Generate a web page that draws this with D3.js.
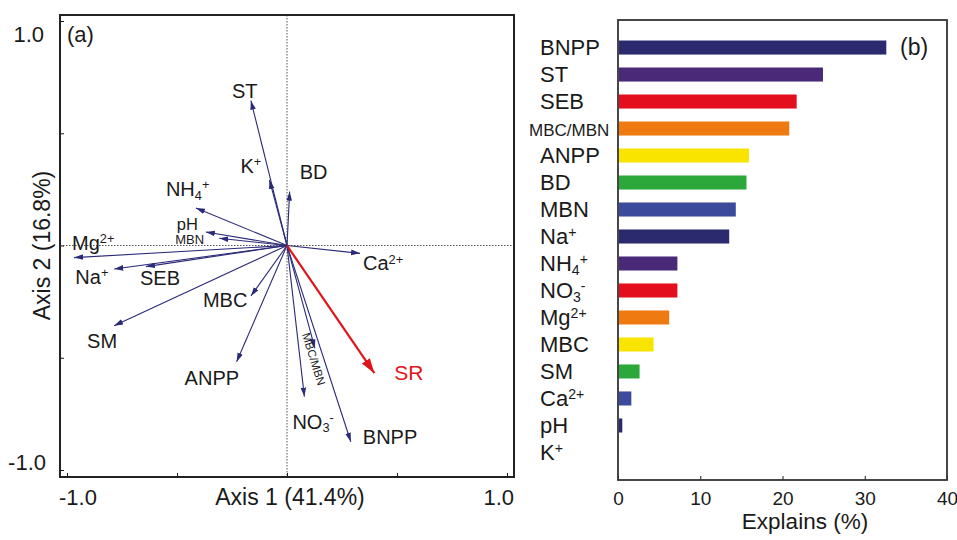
<!DOCTYPE html>
<html>
<head>
<meta charset="utf-8">
<script src="https://cdn.jsdelivr.net/npm/d3@7"></script>
<style>
  body { margin: 0; background: #fff; }
  svg { display: block; font-family: "Liberation Sans", Arial, sans-serif; }
</style>
</head>
<body>
<svg id="chart" width="957" height="540"></svg>
<script>
// ---- Panel (a): RDA biplot, environmental vectors (loadings on axes 1 and 2) ----
const envNames = ["ST", "K^+", "BD", "NH_4^+", "pH", "MBN", "Mg^{2+}", "Na^+", "SEB",
                  "MBC", "SM", "ANPP", "Ca^{2+}", "MBC/MBN", "NO_3^-", "BNPP"];
const envAxis1 = [-0.164, -0.080, 0.012, -0.414, -0.369, -0.308, -0.968, -0.785, -0.641,
                  -0.164, -0.786, -0.229, 0.332, 0.127, 0.079, 0.290];
const envAxis2 = [0.645, 0.292, 0.240, 0.167, 0.060, 0.032, -0.054, -0.105, -0.094,
                  -0.225, -0.357, -0.518, -0.035, -0.458, -0.673, -0.874];
const responseName = "SR";
const responseAxis1 = [0.397];
const responseAxis2 = [-0.569];
const biplotTicks = [-1, -0.5, 0, 0.5, 1];
const biplotTickLabels = ["-1.0", "1.0"];
const axis1Title = "Axis 1 (41.4%)";
const axis2Title = "Axis 2 (16.8%)";

// ---- Panel (b): variance explained by each variable ----
const explainNames = ["BNPP", "ST", "SEB", "MBC/MBN", "ANPP", "BD", "MBN", "Na^+", "NH_4^+",
                      "NO_3^-", "Mg^{2+}", "MBC", "SM", "Ca^{2+}", "pH", "K^+"];
const explainValues = [32.5, 24.8, 21.6, 20.7, 15.8, 15.5, 14.2, 13.4, 7.1,
                       7.1, 6.1, 4.2, 2.5, 1.5, 0.4, 0];
const explainTicks = [0, 10, 20, 30, 40];
const explainTitle = "Explains (%)";

// bar palette (cycles every seven bars)
const barPalette = ["#2b2a6f", "#4a2a78", "#e30f1d", "#ef7a12", "#f9e400", "#2ca73a", "#3c4a9c"];

// label placement for the biplot vectors: [dx, dy, font size, rotation] from the arrow tip
const vectorLabelLayout = {
  "ST": [-19, -3, 20], "K^+": [-29, -7, 20], "BD": [10, -13, 20], "NH_4^+": [-30, -12, 20],
  "pH": [-29, -2, 16.5], "MBN": [-44, 6, 13], "Mg^{2+}": [-2, -8, 20], "Na^+": [-39, 15, 20],
  "SEB": [-6, 18, 20], "MBC": [-48, 11, 20], "SM": [-27, 22, 20], "ANPP": [-52, 23, 20],
  "Ca^{2+}": [3, 17, 20], "MBC/MBN": [-13, -14, 11.5, 73], "NO_3^-": [-12, 32, 20],
  "BNPP": [12, 2, 20]
};

const svg = d3.select("#chart");
const ink = "#1a1a1a";
const vecColor = "#2b2a78";
const srColor = "#e0151b";

// Parse "NH_4^+" style markup into plain / sub / sup runs
function parseRich(s) {
  const out = [];
  const re = /([_^])(\{[^}]*\}|.)|([^_^]+)/g;
  let m;
  while ((m = re.exec(s)) !== null) {
    if (m[3]) out.push({ t: m[3], k: "n" });
    else out.push({ t: m[2].replace(/[{}]/g, ""), k: m[1] === "^" ? "sup" : "sub" });
  }
  return out;
}
function richText(sel, s, fs) {
  let cur = 0;
  parseRich(s).forEach(seg => {
    const target = seg.k === "sup" ? 0.34 * fs : seg.k === "sub" ? -0.18 * fs : 0;
    sel.append("tspan")
      .attr("dy", cur - target)
      .attr("font-size", seg.k === "n" ? fs : 0.64 * fs)
      .text(seg.t);
    cur = target;
  });
}

// ================= Panel (a) =================
const a = { left: 60, right: 514, top: 15, bottom: 477 };
const x = d3.scaleLinear().domain([-1, 1]).range([67, 507]);
const y = d3.scaleLinear().domain([-1, 1]).range([470, 21]);
const gA = svg.append("g");

// dotted reference lines through the origin
gA.append("line").attr("x1", a.left).attr("x2", a.right).attr("y1", y(0)).attr("y2", y(0))
  .attr("stroke", "#555").attr("stroke-width", 1).attr("stroke-dasharray", "1.5,1.5");
gA.append("line").attr("x1", x(0)).attr("x2", x(0)).attr("y1", a.top).attr("y2", a.bottom)
  .attr("stroke", "#555").attr("stroke-width", 1).attr("stroke-dasharray", "1.5,1.5");

// ticks along the frame (inward)
gA.append("g").attr("transform", `translate(0,${a.bottom})`)
  .call(d3.axisBottom(x).tickValues(biplotTicks).tickSize(-4).tickFormat(""))
  .call(g => g.select(".domain").remove())
  .call(g => g.selectAll("line").attr("stroke", ink));
gA.append("g").attr("transform", `translate(${a.left},0)`)
  .call(d3.axisLeft(y).tickValues(biplotTicks).tickSize(-4).tickFormat(""))
  .call(g => g.select(".domain").remove())
  .call(g => g.selectAll("line").attr("stroke", ink));

gA.append("rect").attr("x", a.left).attr("y", a.top)
  .attr("width", a.right - a.left).attr("height", a.bottom - a.top)
  .attr("fill", "none").attr("stroke", "#222").attr("stroke-width", 2);

// arrow markers
const defs = svg.append("defs");
defs.append("marker").attr("id", "headNavy").attr("markerUnits", "userSpaceOnUse")
  .attr("viewBox", "0 -4 10 8").attr("refX", 9).attr("refY", 0)
  .attr("markerWidth", 10).attr("markerHeight", 8).attr("orient", "auto")
  .append("path").attr("d", "M0,-2.8L9,0L0,2.8Z").attr("fill", vecColor);
defs.append("marker").attr("id", "headRed").attr("markerUnits", "userSpaceOnUse")
  .attr("viewBox", "0 -6 16 12").attr("refX", 15).attr("refY", 0)
  .attr("markerWidth", 16).attr("markerHeight", 12).attr("orient", "auto")
  .append("path").attr("d", "M0,-4.8L15,0L0,4.8Z").attr("fill", srColor);

const vectors = envNames.map((n, i) => ({ name: n, v1: envAxis1[i], v2: envAxis2[i] }));
gA.selectAll("line.vec").data(vectors).join("line").attr("class", "vec")
  .attr("x1", x(0)).attr("y1", y(0))
  .attr("x2", d => x(d.v1)).attr("y2", d => y(d.v2))
  .attr("stroke", vecColor).attr("stroke-width", 1.1)
  .attr("marker-end", "url(#headNavy)");

gA.selectAll("text.vlab").data(vectors).join("text").attr("class", "vlab")
  .attr("fill", ink)
  .each(function (d) {
    const L = vectorLabelLayout[d.name];
    const px = x(d.v1) + L[0], py = y(d.v2) + L[1];
    const t = d3.select(this).attr("x", px).attr("y", py);
    if (L[3]) t.attr("transform", `rotate(${L[3]},${px},${py})`);
    richText(t, d.name, L[2]);
  });

// response vector
const response = responseAxis1.map((v, i) => ({ v1: v, v2: responseAxis2[i] }));
gA.selectAll("line.resp").data(response).join("line").attr("class", "resp")
  .attr("x1", x(0)).attr("y1", y(0))
  .attr("x2", d => x(d.v1)).attr("y2", d => y(d.v2))
  .attr("stroke", srColor).attr("stroke-width", 2.2)
  .attr("marker-end", "url(#headRed)");
gA.selectAll("text.rlab").data(response).join("text").attr("class", "rlab")
  .attr("x", d => x(d.v1) + 20).attr("y", d => y(d.v2) + 7)
  .attr("fill", srColor).attr("font-size", 21).text(responseName);

// tick labels and titles
gA.append("text").attr("x", a.left - 1).attr("y", 505).attr("font-size", 22)
  .attr("fill", ink).text(biplotTickLabels[0]);
gA.append("text").attr("x", a.right).attr("y", 505).attr("font-size", 22)
  .attr("text-anchor", "end").attr("fill", ink).text(biplotTickLabels[1]);
gA.append("text").attr("x", 44).attr("y", 42).attr("font-size", 22)
  .attr("text-anchor", "end").attr("fill", ink).text(biplotTickLabels[1]);
gA.append("text").attr("x", 46).attr("y", 470).attr("font-size", 22)
  .attr("text-anchor", "end").attr("fill", ink).text(biplotTickLabels[0]);
gA.append("text").attr("x", x(0) + 3).attr("y", 505).attr("font-size", 23)
  .attr("text-anchor", "middle").attr("fill", ink).text(axis1Title);
gA.append("text").attr("transform", `translate(50,${y(0)}) rotate(-90)`)
  .attr("font-size", 23).attr("text-anchor", "middle").attr("fill", ink).text(axis2Title);
gA.append("text").attr("x", 67).attr("y", 42).attr("font-size", 22)
  .attr("fill", ink).text("(a)");

// ================= Panel (b) =================
const b = { left: 618, right: 947, top: 20, bottom: 480 };
const xb = d3.scaleLinear().domain([0, 40]).range([b.left, b.right]);
const yb = d3.scaleBand().domain(explainNames).range([b.top, b.bottom])
  .paddingInner(0.48).paddingOuter(0.76);
const gB = svg.append("g");

gB.selectAll("rect.bar").data(explainNames).join("rect").attr("class", "bar")
  .attr("x", xb(0) + 1).attr("y", n => yb(n))
  .attr("width", (n, i) => Math.max(0, xb(explainValues[i]) - xb(0)))
  .attr("height", yb.bandwidth())
  .attr("fill", (n, i) => barPalette[i % barPalette.length]);

gB.append("g").attr("transform", `translate(0,${b.bottom})`)
  .call(d3.axisBottom(xb).tickValues(explainTicks).tickSize(-4).tickPadding(12))
  .call(g => g.select(".domain").remove())
  .call(g => g.selectAll("line").attr("stroke", ink))
  .call(g => g.selectAll("text").attr("font-size", 19).attr("fill", ink)
    .attr("font-family", "Liberation Sans, Arial, sans-serif"));

gB.append("rect").attr("x", b.left).attr("y", b.top)
  .attr("width", b.right - b.left).attr("height", b.bottom - b.top)
  .attr("fill", "none").attr("stroke", "#333").attr("stroke-width", 1.8);

gB.selectAll("text.blab").data(explainNames).join("text").attr("class", "blab")
  .attr("x", n => n === "MBC/MBN" ? 529 : 540)
  .attr("y", n => yb(n) + yb.bandwidth() / 2 + 7.8)
  .attr("fill", ink)
  .each(function (n) { richText(d3.select(this), n, n === "MBC/MBN" ? 17 : 22); });

gB.append("text").attr("x", 805).attr("y", 529).attr("font-size", 22.5)
  .attr("text-anchor", "middle").attr("fill", ink).text(explainTitle);
gB.append("text").attr("x", 900).attr("y", 55).attr("font-size", 23)
  .attr("fill", ink).text("(b)");
</script>
</body>
</html>
